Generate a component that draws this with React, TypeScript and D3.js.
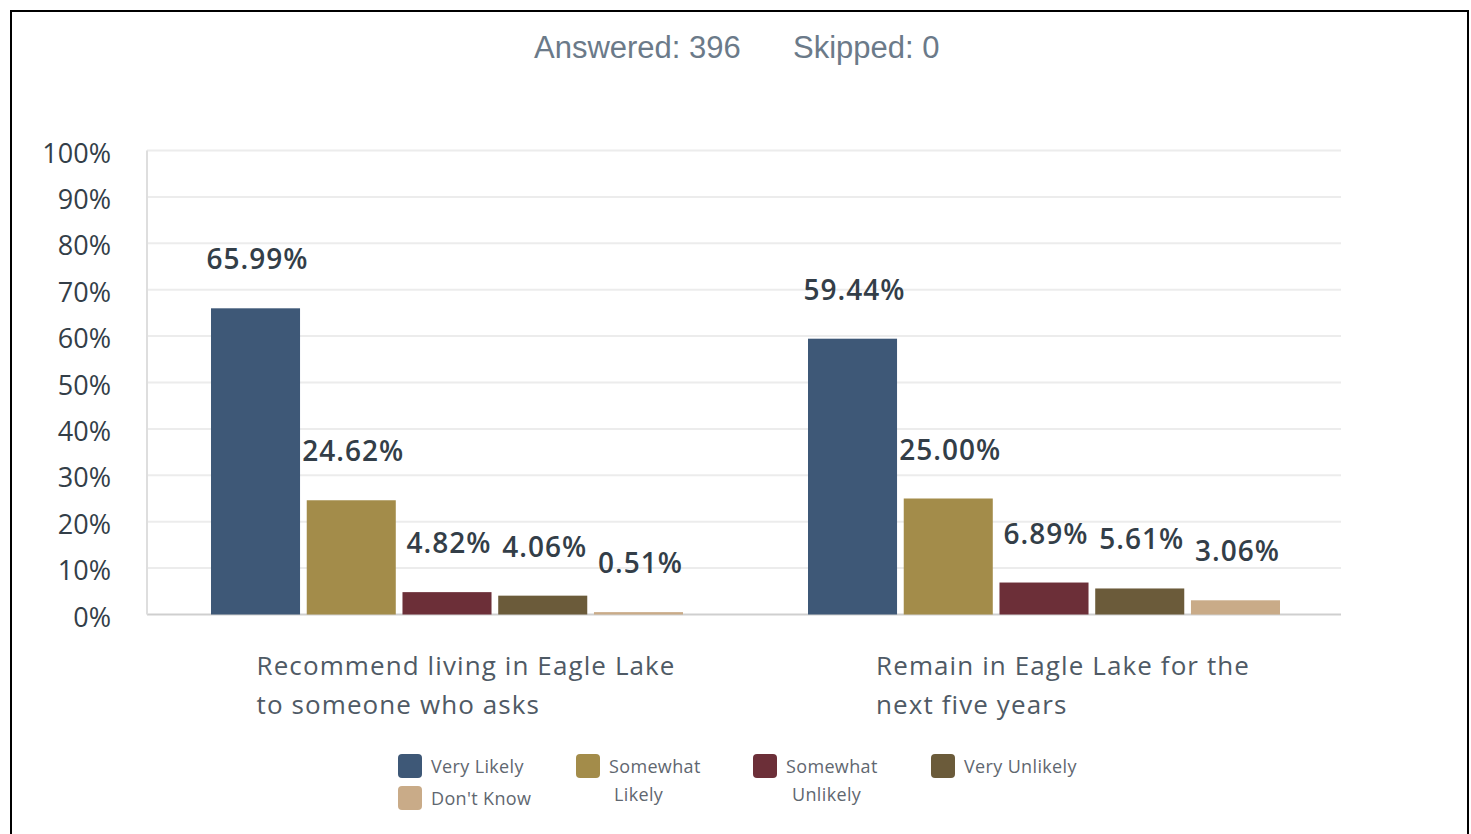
import React from "react";
import * as d3 from "d3";

const categories: string[][] = [
  ["Recommend living in Eagle Lake", "to someone who asks"],
  ["Remain in Eagle Lake for the", "next five years"],
];
const seriesNames = ["Very Likely", "Somewhat Likely", "Somewhat Unlikely", "Very Unlikely", "Don't Know"];
const seriesColors = ["#3e5877", "#a38c4a", "#6c2f38", "#6b5b3a", "#c9ab88"];
const valuesRecommend = [65.99, 24.62, 4.82, 4.06, 0.51];
const valuesRemain = [59.44, 25.0, 6.89, 5.61, 3.06];
const yTicks = [0, 10, 20, 30, 40, 50, 60, 70, 80, 90, 100];
const answered = 396;
const skipped = 0;

const W = 1471;
const H = 834;

function measure(text: string, font: string, ls: number): number {
  const c = document.createElement("canvas");
  const ctx = c.getContext("2d");
  if (!ctx) return text.length * 14;
  ctx.font = font;
  return ctx.measureText(text).width + ls * (text.length - 1);
}

export default function App() {
  const values = [valuesRecommend, valuesRemain];
  const plotL = 147;
  const plotR = 1341;
  const plotT = 150.5;
  const plotB = 614.5;

  const x0 = d3.scaleBand<number>().domain([0, 1]).range([plotL, plotR]).padding(0);
  const bw0 = x0.bandwidth();
  const x1 = d3
    .scaleBand<number>()
    .domain(d3.range(seriesNames.length))
    .range([64, bw0 - 61])
    .paddingInner(0.07)
    .paddingOuter(0);
  const y = d3.scaleLinear().domain([0, 100]).range([plotB, plotT]);

  const catFontSize = 26;
  const catLS = 1.1;
  const catFont = `${catFontSize}px 'Open Sans'`;

  const legendItems = [
    { col: 0, row: 0, lines: ["Very Likely"], dx2: 0 },
    { col: 1, row: 0, lines: ["Somewhat", "Likely"], dx2: 5 },
    { col: 2, row: 0, lines: ["Somewhat", "Unlikely"], dx2: 6 },
    { col: 3, row: 0, lines: ["Very Unlikely"], dx2: 0 },
    { col: 0, row: 1, lines: ["Don't Know"], dx2: 0 },
  ];
  const legendColX = [398, 576, 753, 931];

  return (
    <svg
      width={W}
      height={H}
      style={{ position: "absolute", left: 0, top: 0, background: "#fff" }}
    >
      <rect x={0} y={0} width={W} height={H} fill="#fff" />
      <rect x={11} y={11} width={1457} height={900} fill="#fff" stroke="#000" strokeWidth={2} />

      <text
        x={534}
        y={58}
        fontFamily="'Liberation Sans', Arial, sans-serif"
        fontSize={31}
        fill="#6b7a89"
      >
        {`Answered: ${answered}`}
      </text>
      <text
        x={793}
        y={58}
        fontFamily="'Liberation Sans', Arial, sans-serif"
        fontSize={31}
        fill="#6b7a89"
      >
        {`Skipped: ${skipped}`}
      </text>

      {/* gridlines */}
      {yTicks.map((t) => (
        <line
          key={"g" + t}
          x1={plotL}
          x2={plotR}
          y1={y(t)}
          y2={y(t)}
          stroke={t === 0 ? "#cfcfcf" : "#ececec"}
          strokeWidth={2}
        />
      ))}
      <line x1={plotL} x2={plotL} y1={plotT} y2={plotB} stroke="#dedede" strokeWidth={2} />

      {/* y tick labels */}
      {yTicks.map((t) => (
        <text
          key={"t" + t}
          x={111}
          y={y(t) + 12}
          textAnchor="end"
          fontFamily="'Open Sans', sans-serif"
          fontSize={27}
          fill="#333e48"
        >
          {`${t}%`}
        </text>
      ))}

      {/* bars */}
      {values.map((vals, gi) => (
        <g key={"grp" + gi} transform={`translate(${x0(gi)},0)`}>
          {vals.map((v, si) => (
            <rect
              key={"b" + si}
              x={x1(si)}
              y={y(v)}
              width={x1.bandwidth()}
              height={plotB - y(v)}
              fill={seriesColors[si]}
            />
          ))}
          {vals.map((v, si) => (
            <text
              key={"l" + si}
              x={(x1(si) as number) + x1.bandwidth() / 2 + 2}
              y={y(v) - 39}
              textAnchor="middle"
              fontFamily="'Open Sans', sans-serif"
              fontWeight={600}
              fontSize={28}
              letterSpacing={1}
              fill="#333e48"
            >
              {`${v.toFixed(2)}%`}
            </text>
          ))}
        </g>
      ))}

      {/* category labels */}
      {categories.map((lines, gi) => {
        const wMax = Math.max(...lines.map((l) => measure(l, catFont, catLS)));
        const cx = (x0(gi) as number) + bw0 / 2 + 20;
        const lx = cx - wMax / 2;
        return (
          <g key={"c" + gi}>
            {lines.map((l, li) => (
              <text
                key={li}
                x={lx}
                y={675 + li * 39}
                fontFamily="'Open Sans', sans-serif"
                fontSize={catFontSize}
                letterSpacing={catLS}
                fill="#4f5a65"
              >
                {l}
              </text>
            ))}
          </g>
        );
      })}

      {/* legend */}
      {legendItems.map((it, i) => {
        const sx = legendColX[it.col];
        const sy = 754 + it.row * 32;
        return (
          <g key={"lg" + i}>
            <rect x={sx} y={sy} width={24} height={24} rx={4} fill={seriesColors[i]} />
            {it.lines.map((l, li) => (
              <text
                key={li}
                x={sx + 33 + (li > 0 ? it.dx2 : 0)}
                y={sy + 19 + li * 28}
                fontFamily="'Open Sans', sans-serif"
                fontSize={18}
                letterSpacing={0.35}
                fill="#5f6770"
              >
                {l}
              </text>
            ))}
          </g>
        );
      })}
    </svg>
  );
}
